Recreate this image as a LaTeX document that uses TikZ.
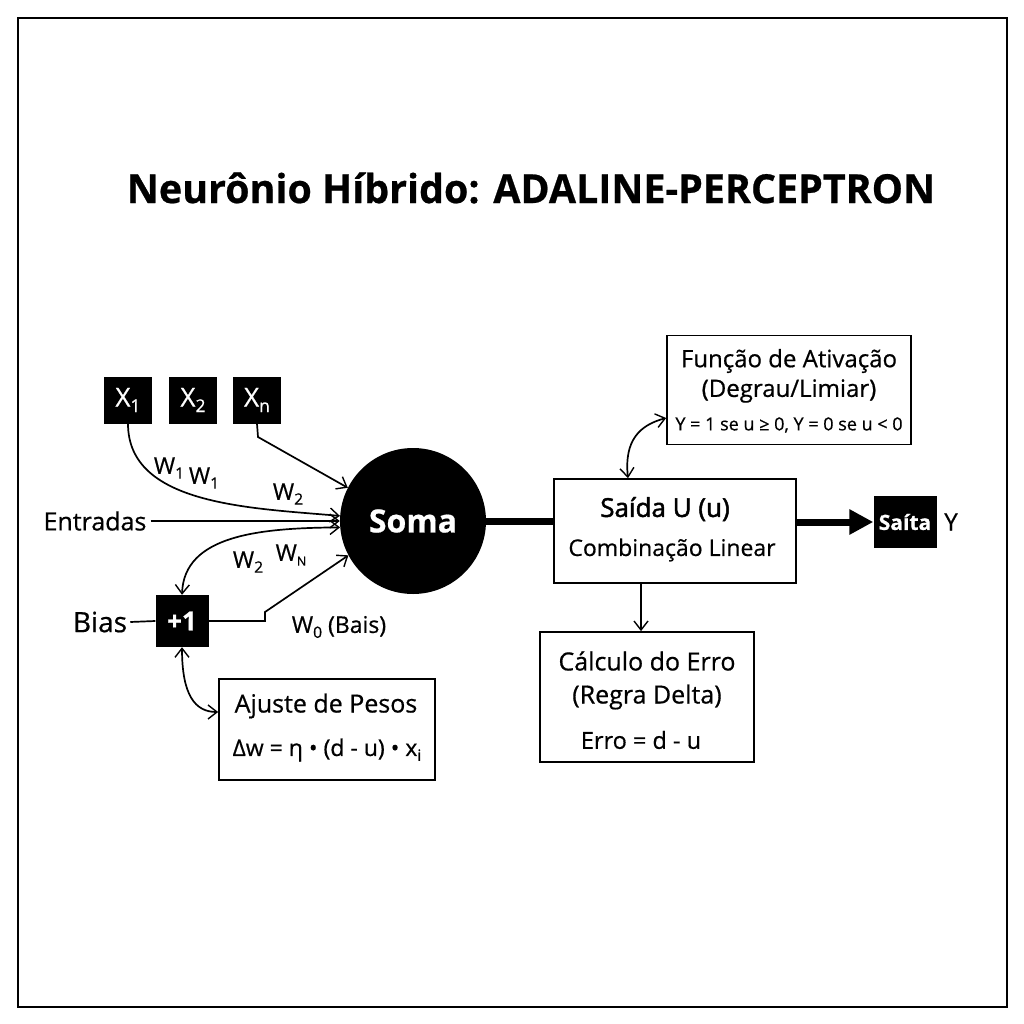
\documentclass[tikz,border=0pt]{standalone}
\usepackage{fontspec}
\setmainfont{Open Sans}[FakeBold=0.6]
\newfontfamily\semib{Open Sans}[FakeBold=1.8]
\usetikzlibrary{arrows.meta}
\newcommand{\lowsub}[1]{\raisebox{-0.4ex}{\scalebox{0.68}{#1}}}
\newcommand{\fs}[1]{\fontsize{#1}{#1}\selectfont}
\begin{document}
\begin{tikzpicture}[x=1pt,y=-1pt,
  blk/.style={fill=black, text=white, minimum width=48pt, minimum height=47pt, inner sep=0pt, font=\fs{26}},
  wbox/.style={draw, line width=1.7pt, fill=white, align=center, inner sep=0pt},
  txt/.style={inner sep=0pt},
  lbl/.style={font=\fs{23}, inner sep=0pt},
  barb/.tip={Straight Barb[length=9pt,width=14pt,line width=1.4pt]},
  arr/.style={-barb, line width=1.7pt},
  darr/.style={barb-barb, line width=1.7pt},
  thickline/.style={line width=7pt}]
\useasboundingbox (0,0) rectangle (1024,1024);
\draw[line width=2.2pt] (18,18) rectangle (1007,1007);

\node[font=\bfseries\fs{40}, inner sep=0pt] (title) at (531,188) {\scalebox{0.985}[1]{Neurônio Híbrido: ADALINE-PERCEPTRON}};

% inputs
\node[blk] (x1) at (128,400) {X\lowsub{1}};
\node[blk] (x2) at (193,400) {X\lowsub{2}};
\node[blk] (xn) at (257,400) {X\lowsub{n}};
\node[circle, fill=black, minimum size=146pt, inner sep=0pt, text=white, font=\bfseries\fs{32}] (soma) at (413,521) {Soma};
\node[txt, font=\fs{25}] (entradas) at (95,521) {Entradas};
\node[blk, minimum width=53pt, minimum height=52pt, font=\bfseries\fs{26}] (one) at (182,621) {+1};
\node[txt, font=\fs{28}] (bias) at (100,622) {Bias};

% boxes
\node[wbox, minimum width=244pt, minimum height=109pt] (func) at (789,390) {};
\node[txt, font=\fs{24}] (func1) at (789,361) {Função de Ativação};
\node[txt, font=\fs{24}] (func2) at (789,391) {(Degrau/Limiar)};
\node[txt, font=\fs{18}] (func3) at (789,425) {Y = 1 se u ≥ 0, Y = 0 se u < 0};

\node[wbox, minimum width=242pt, minimum height=104pt] (saida) at (675,531) {};
\node[txt, font=\semib\fs{26}] (saida1) at (665,509) {Saída U (u)};
\node[txt, font=\fs{23}] (saida2) at (672,550) {Combinação Linear};

\node[blk, minimum width=63pt, minimum height=52pt, font=\bfseries\fs{21}] (saita) at (905,522) {Saíta};
\node[txt, font=\fs{24}] (ylab) at (951,522) {Y};

\node[wbox, minimum width=214pt, minimum height=130pt] (erro) at (647,697) {};
\node[txt, font=\fs{25}] (erro1) at (647,661) {Cálculo do Erro};
\node[txt, font=\fs{25}] (erro2) at (647,697) {(Regra Delta)};
\node[txt, font=\fs{23.5}] (erro3) at (641,740) {Erro = d - u};

\node[wbox, minimum width=216pt, minimum height=101pt] (ajuste) at (327,729.5) {};
\node[txt, font=\fs{25}] (aj1) at (326,706) {Ajuste de Pesos};
\node[txt, font=\fs{23}] (aj2) at (327,750) {Δw = η • (d - u) • x\lowsub{i}};

% weight labels
\node[lbl] (w1a) at (169,468) {W\lowsub{1}};
\node[lbl] (w1b) at (204,478) {W\lowsub{1}};
\node[lbl] (w2a) at (288,494) {W\lowsub{2}};
\node[lbl] (w2b) at (248,562) {W\lowsub{2}};
\node[lbl] (wn) at (291,555) {W\lowsub{\scalebox{0.8}{N}}};
\node[lbl] (w0) at (339,627) {W\lowsub{0} (Bais)};

% connectors
\coordinate (xnk) at (258,437);
\coordinate (ok) at (265,621);
\coordinate (ok2) at (265,612);
\coordinate (ex) at (641,600);
\coordinate (fx) at (628,470);

\draw[arr] (x1.south) .. controls (128,505) and (250,508) .. (soma.176);
\draw[arr] (xn.south) -- (xnk) -- (soma.153);
\draw[arr] (entradas.east) ++(4,0) -- (soma.west);
\draw[darr] (one.north) .. controls (184,535) and (260,528) .. (soma.185);
\draw[arr] (one.east) -- (ok) -- (ok2) -- (soma.208);
\draw[line width=1.7pt] (bias.east) ++(3,0) -- (one.west);
\draw[darr] (one.south) .. controls (182,695) and (195,712) .. (ajuste.west |- 0,712);

\draw[thickline] (soma.east) -- (saida.west |- soma.east);
\draw[thickline, -{Triangle[length=24pt,width=24pt]}] (saida.east |- saita.west) -- (saita.west);
\draw[arr] (saida.south -| ex) -- (erro.north -| ex);
\draw[darr] (saida.north -| fx) .. controls (624,440) and (640,425) .. (func.west |- 0,418);
\end{tikzpicture}
\end{document}
